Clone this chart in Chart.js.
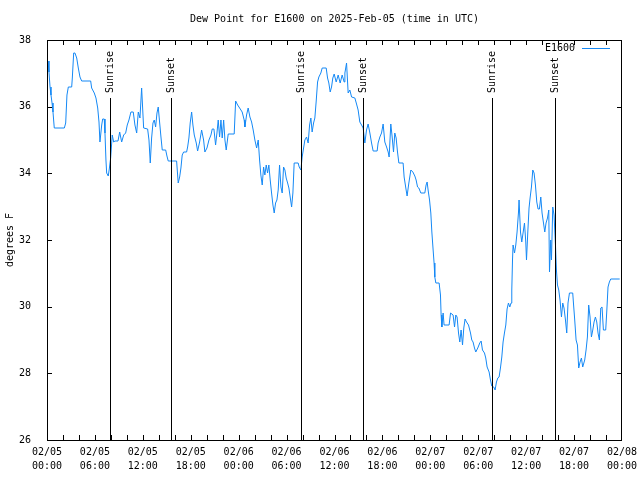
<!DOCTYPE html>
<html>
<head>
<meta charset="utf-8">
<script src="https://cdn.jsdelivr.net/npm/chart.js@4.4.1/dist/chart.umd.min.js"></script>
<style>
    body { margin: 0; background: #fff; }
    #wrap { width: 640px; height: 480px; }
</style>
</head>
<body>
<div id="wrap"><canvas id="dewChart" width="640" height="480"></canvas></div>
<script>
// Hours since 2025-02-05 00:00 UTC
const hours = [
    0.13, 0.25, 0.38, 0.5, 0.63, 0.75, 0.91, 2.17, 2.34, 2.5, 2.67, 3.09, 3.17, 3.34, 3.5, 3.72, 3.92, 4.13, 4.34, 5.47,
    5.59, 5.92, 6.13, 6.35, 6.51, 6.63, 6.85, 6.97, 7.17, 7.26, 7.38, 7.47, 7.67, 7.8, 7.97, 8.17, 8.35, 8.51, 8.89, 9.1,
    9.35, 9.6, 9.85, 10.05, 10.26, 10.51, 10.8, 11.01, 11.23, 11.43, 11.64, 11.85, 12.1, 12.6, 12.77, 12.93, 13.1, 13.27, 13.43, 13.6,
    13.77, 13.93, 14.11, 14.27, 14.43, 14.86, 15.02, 15.18, 16.23, 16.31, 16.43, 16.61, 16.77, 16.93, 17.11, 17.48, 17.61, 17.77, 17.93, 18.11,
    18.27, 18.44, 18.69, 18.86, 19.11, 19.36, 19.61, 19.77, 20.03, 20.28, 20.53, 20.69, 20.9, 21.11, 21.28, 21.44, 21.61, 21.78, 21.94, 22.12,
    22.28, 22.44, 22.69, 23.44, 23.62, 23.87, 24.12, 24.44, 24.69, 24.78, 24.99, 25.19, 25.41, 25.62, 25.82, 26.03, 26.25, 26.45, 26.62, 26.78,
    26.95, 27.12, 27.28, 27.45, 27.62, 27.78, 27.95, 28.12, 28.29, 28.45, 28.62, 28.79, 28.95, 29.12, 29.29, 29.45, 29.62, 29.79, 29.95, 30.13,
    30.29, 30.45, 30.63, 30.79, 30.95, 31.45, 31.58, 31.79, 31.95, 32.13, 32.29, 32.5, 32.7, 32.88, 33.04, 33.2, 33.38, 33.54, 33.7, 33.88,
    34.04, 34.29, 34.46, 34.96, 35.13, 35.29, 35.46, 35.63, 35.79, 35.96, 36.21, 36.46, 36.71, 36.96, 37.21, 37.3, 37.51, 37.71, 37.92, 38.14,
    38.55, 38.76, 38.96, 39.17, 39.39, 39.59, 39.8, 40.01, 40.21, 40.43, 40.64, 40.84, 41.34, 41.46, 41.68, 41.89, 42.09, 42.3, 42.52, 42.72,
    42.84, 43.05, 43.22, 43.39, 43.55, 43.72, 43.89, 44.06, 44.59, 44.72, 44.93, 45.09, 45.31, 45.56, 45.81, 46.06, 46.22, 46.4, 46.56, 46.81,
    47.31, 47.47, 47.6, 47.72, 47.9, 48.06, 48.19, 48.35, 48.47, 48.56, 48.69, 49.1, 49.27, 49.35, 49.44, 49.6, 49.72, 50.35, 50.53, 50.85,
    51.03, 51.19, 51.35, 51.53, 51.69, 51.85, 52.03, 52.19, 52.35, 52.53, 52.78, 53.03, 53.19, 53.35, 53.53, 53.69, 53.94, 54.19, 54.36, 54.53,
    54.78, 54.94, 55.11, 55.36, 55.53, 55.69, 55.94, 56.11, 56.28, 56.45, 56.61, 56.78, 56.95, 57.11, 57.28, 57.45, 57.61, 57.78, 57.95, 58.11,
    58.2, 58.29, 58.36, 58.54, 58.7, 58.86, 59.04, 59.11, 59.29, 59.45, 59.61, 59.79, 59.95, 60.04, 60.2, 60.36, 60.49, 60.66, 60.83, 60.99,
    61.16, 61.33, 61.49, 61.66, 61.83, 61.99, 62.17, 62.33, 62.49, 62.67, 62.83, 62.92, 63.08, 63.17, 63.33, 63.49, 63.67, 63.79, 63.92, 64.08,
    64.24, 64.42, 64.58, 64.74, 64.92, 65.08, 65.24, 65.42, 65.83, 65.92, 66.08, 66.25, 66.42, 66.58, 66.75, 66.92, 67.08, 67.33, 67.5, 67.67,
    67.83, 68.0, 68.17, 68.34, 68.5, 68.67, 68.84, 69.0, 69.17, 69.34, 69.5, 69.67, 69.96, 70.09, 70.25, 70.42, 70.59, 71.71
];

// Dew point, degrees F
const dewPoint = [
    37.37, 37.04, 36.59, 36.35, 36.11, 35.84, 35.36, 35.36, 35.51, 36.35, 36.59, 36.59, 36.86, 37.61, 37.61, 37.46, 37.16, 36.89, 36.77, 36.77,
    36.56, 36.41, 36.26, 35.96, 35.54, 34.94, 35.45, 35.63, 35.63, 35.21, 34.4, 34.01, 33.92, 34.13, 34.46, 35.15, 34.94, 34.97, 34.97, 35.24,
    34.94, 35.15, 35.21, 35.45, 35.6, 35.84, 35.84, 35.45, 35.21, 35.84, 35.66, 36.56, 35.36, 35.33, 35.0, 34.31, 35.06, 35.51, 35.6, 35.39,
    35.81, 35.99, 35.51, 35.09, 34.7, 34.7, 34.52, 34.37, 34.37, 34.1, 33.71, 33.89, 34.16, 34.55, 34.64, 34.64, 34.79, 35.06, 35.51, 35.84,
    35.45, 35.15, 34.91, 34.67, 34.94, 35.3, 35.0, 34.64, 34.76, 35.0, 35.15, 35.33, 35.33, 34.85, 35.21, 35.6, 35.09, 35.6, 35.06, 35.6,
    35.0, 34.7, 35.18, 35.18, 36.17, 36.05, 35.96, 35.84, 35.6, 35.39, 35.75, 35.96, 35.69, 35.54, 35.3, 35.0, 34.76, 35.0, 34.4, 33.95,
    33.65, 34.19, 33.95, 34.25, 34.01, 34.25, 33.8, 33.41, 33.05, 32.81, 33.11, 33.2, 33.5, 34.25, 33.59, 33.41, 34.19, 34.1, 33.86, 33.71,
    33.56, 33.29, 32.99, 33.41, 34.31, 34.31, 34.19, 34.1, 34.49, 34.76, 35.0, 35.09, 34.91, 35.45, 35.66, 35.24, 35.51, 35.66, 36.14, 36.74,
    36.89, 37.01, 37.16, 37.16, 36.86, 36.71, 36.44, 36.59, 36.86, 36.98, 36.74, 36.95, 36.71, 36.95, 36.74, 37.01, 37.31, 36.41, 36.5, 36.29,
    36.26, 36.08, 35.9, 35.54, 35.45, 35.36, 34.91, 35.3, 35.48, 35.21, 34.91, 34.67, 34.67, 34.91, 35.09, 35.21, 35.48, 34.94, 34.79, 34.64,
    34.49, 35.48, 35.09, 34.64, 35.21, 35.06, 34.64, 34.31, 34.31, 33.89, 33.56, 33.32, 33.71, 34.1, 34.04, 33.92, 33.8, 33.59, 33.56, 33.41,
    33.41, 33.65, 33.74, 33.5, 33.2, 32.81, 32.24, 31.7, 31.31, 30.89, 30.71, 30.71, 30.35, 29.75, 29.39, 29.81, 29.45, 29.45, 29.81, 29.75,
    29.39, 29.75, 29.69, 29.21, 28.94, 29.3, 28.85, 29.36, 29.63, 29.54, 29.45, 29.21, 29.0, 28.94, 28.76, 28.64, 28.76, 28.91, 28.97, 28.7,
    28.61, 28.46, 28.19, 28.04, 27.8, 27.62, 27.59, 27.5, 27.74, 27.86, 27.89, 28.16, 28.49, 28.94, 29.21, 29.45, 29.93, 30.11, 29.99, 30.11,
    30.5, 31.4, 31.85, 31.61, 31.85, 32.24, 32.84, 33.2, 32.24, 31.94, 32.21, 32.51, 31.94, 31.4, 32.21, 32.96, 33.26, 33.59, 34.1, 34.01,
    33.65, 33.14, 32.93, 32.93, 33.29, 32.81, 32.51, 32.24, 32.51, 32.66, 32.9, 31.04, 32.0, 31.4, 32.99, 32.75, 31.85, 31.1, 30.65, 30.5,
    30.2, 29.69, 30.11, 29.96, 29.6, 29.21, 30.11, 30.41, 30.41, 30.11, 29.6, 29.0, 28.85, 28.16, 28.34, 28.46, 28.19, 28.4, 28.7, 29.09,
    30.05, 29.69, 29.09, 29.3, 29.54, 29.69, 29.54, 29.21, 29.0, 29.96, 29.99, 29.3, 29.3, 29.84, 30.59, 30.74, 30.83, 30.83
];

// Sun events, hours since start
const sunTimes = [7.93, 15.56, 31.79, 39.59, 55.73, 63.62];
const sunLabels = ['Sunrise', 'Sunset', 'Sunrise', 'Sunset', 'Sunrise', 'Sunset'];

const seriesName = 'E1600';
const chartTitle = 'Dew Point for E1600 on 2025-Feb-05 (time in UTC)';
const yTitle = 'degrees F';
const dayLabels = ['02/05', '02/06', '02/07', '02/08'];

const FONT = '10px "DejaVu Sans Mono", monospace';
const LINE_COLOR = '#1488f5';

// Gnuplot-ish frame, inward ticks, sun lines and legend
const decorPlugin = {
    id: 'decor',
    afterDatasetsDraw(chart) {
        const ctx = chart.ctx;
        const area = chart.chartArea;
        const xs = chart.scales.x;
        const ys = chart.scales.y;

        ctx.save();
        ctx.strokeStyle = '#000';
        ctx.lineWidth = 1;

        // sun lines
        sunTimes.forEach(t => {
            const px = Math.round(xs.getPixelForValue(t)) + 0.5;
            ctx.beginPath();
            ctx.moveTo(px, 98);
            ctx.lineTo(px, area.bottom);
            ctx.stroke();
        });

        // ticks every 2 hours on bottom and top
        ctx.beginPath();
        for (let h = 2; h < 72; h += 2) {
            const px = Math.round(xs.getPixelForValue(h)) + 0.5;
            ctx.moveTo(px, area.bottom);
            ctx.lineTo(px, area.bottom - 5);
            ctx.moveTo(px, area.top);
            ctx.lineTo(px, area.top + 5);
        }
        for (let v = 28; v < 38; v += 2) {
            const py = Math.round(ys.getPixelForValue(v)) + 0.5;
            ctx.moveTo(area.left, py);
            ctx.lineTo(area.left + 5, py);
            ctx.moveTo(area.right, py);
            ctx.lineTo(area.right - 5, py);
        }
        ctx.stroke();

        // frame
        ctx.strokeRect(area.left + 0.5, area.top + 0.5, area.right - area.left - 1, area.bottom - area.top);

        ctx.fillStyle = '#000';
        ctx.font = FONT;

        // sun labels, reading upward from just above the line
        sunTimes.forEach((t, i) => {
            const px = Math.round(xs.getPixelForValue(t)) + 0.5;
            ctx.save();
            ctx.translate(px, 93);
            ctx.rotate(-Math.PI / 2);
            ctx.textAlign = 'left';
            ctx.textBaseline = 'middle';
            ctx.fillText(sunLabels[i], 0, 0);
            ctx.restore();
        });

        // title
        ctx.textAlign = 'center';
        ctx.textBaseline = 'middle';
        ctx.fillText(chartTitle, (area.left + area.right) / 2, 19);

        // y title
        ctx.save();
        ctx.translate(10, (area.top + area.bottom) / 2);
        ctx.rotate(-Math.PI / 2);
        ctx.fillText(yTitle, 0, 0);
        ctx.restore();

        // legend
        ctx.textAlign = 'right';
        ctx.fillText(seriesName, 575, 48);
        ctx.strokeStyle = LINE_COLOR;
        ctx.beginPath();
        ctx.moveTo(582, 48.5);
        ctx.lineTo(610, 48.5);
        ctx.stroke();

        ctx.restore();
    }
};

const ctx = document.getElementById('dewChart');
new Chart(ctx, {
    type: 'line',
    data: {
        datasets: [{
            label: seriesName,
            data: hours.map((h, i) => ({ x: h, y: dewPoint[i] })),
            borderColor: LINE_COLOR,
            borderWidth: 1,
            pointRadius: 0,
            tension: 0,
            fill: false
        }]
    },
    options: {
        responsive: false,
        animation: false,
        events: [],
        layout: { padding: { top: 40, right: 18, left: 0, bottom: 0 } },
        plugins: {
            legend: { display: false },
            title: { display: false },
            tooltip: { enabled: false }
        },
        scales: {
            x: {
                type: 'linear',
                min: 0,
                max: 72,
                grid: { display: false },
                border: { display: false },
                afterFit(scale) {
                    scale.height = 40;
                    scale.paddingLeft = 0;
                    scale.paddingRight = 0;
                },
                ticks: {
                    stepSize: 6,
                    maxRotation: 0,
                    autoSkip: false,
                    padding: -3,
                    color: '#000',
                    font: { family: '"DejaVu Sans Mono", monospace', size: 10, lineHeight: 1.4 },
                    callback: function(value) {
                        const day = dayLabels[Math.floor(value / 24)];
                        const hh = String(value % 24).padStart(2, '0');
                        return [day, hh + ':00'];
                    }
                }
            },
            y: {
                min: 26,
                max: 38,
                grid: { display: false },
                border: { display: false },
                afterFit(scale) {
                    scale.width = 47;
                    scale.paddingTop = 0;
                    scale.paddingBottom = 0;
                },
                ticks: {
                    stepSize: 2,
                    padding: 8,
                    color: '#000',
                    font: { family: '"DejaVu Sans Mono", monospace', size: 10 }
                }
            }
        }
    },
    plugins: [decorPlugin]
});
</script>
</body>
</html>
